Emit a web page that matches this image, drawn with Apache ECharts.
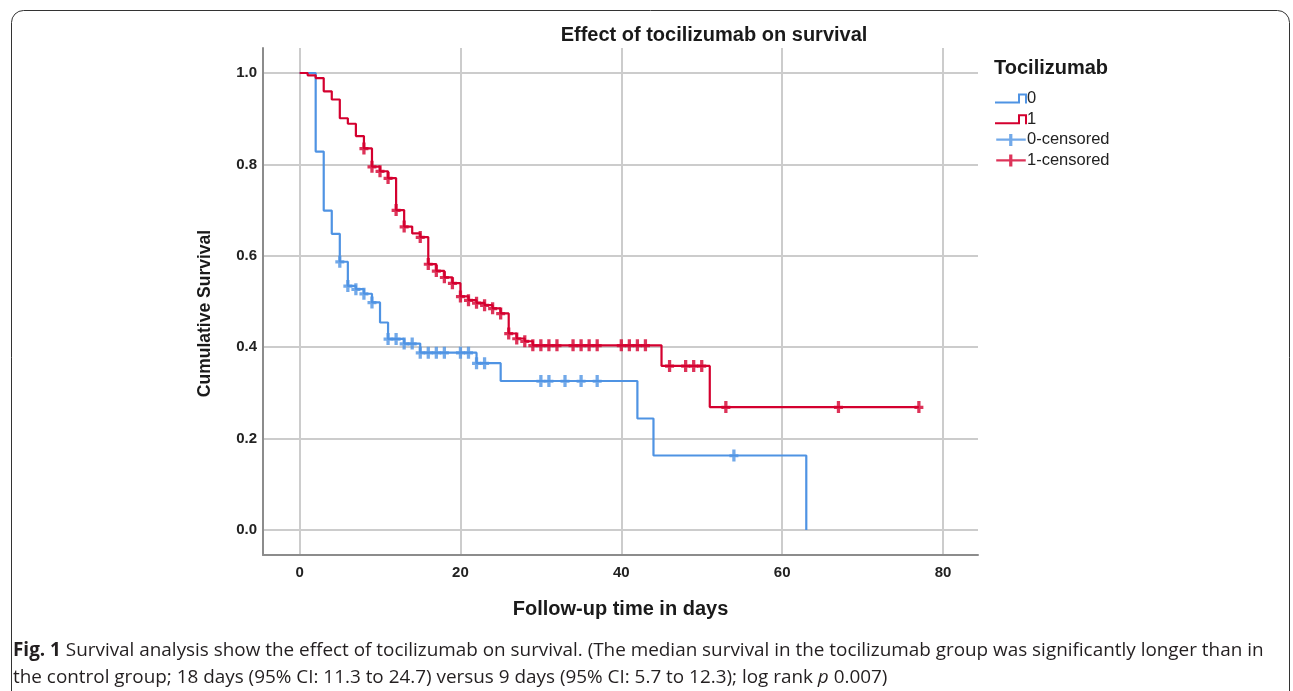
<!DOCTYPE html>
<html>
<head>
<meta charset="utf-8">
<title>Effect of tocilizumab on survival</title>
<script src="https://cdn.jsdelivr.net/npm/echarts@6/dist/echarts.min.js"></script>
<style>
  html, body { margin: 0; padding: 0; background: #fff; }
  #chart { width: 1293px; height: 691px; }
</style>
</head>
<body>
<div id="chart"></div>
<script>
// Tocilizumab = 0 (control): step points of the Kaplan-Meier curve
const days0 = [0, 2, 3, 4, 5, 6, 7, 8, 9, 10, 11, 13, 15, 22, 25, 42, 44, 63]
const surv0 = [1, 0.828, 0.699, 0.648, 0.587, 0.534, 0.527, 0.517, 0.498, 0.454, 0.418, 0.408, 0.388, 0.365, 0.326, 0.244, 0.163, 0]
// censored cases, group 0
const censDays0 = [5, 6, 7, 8, 9, 11, 12, 13, 14, 15, 16, 17, 18, 20, 21, 22, 23, 30, 31, 33, 35, 37, 54]
const censSurv0 = [0.587, 0.534, 0.527, 0.517, 0.498, 0.418, 0.418, 0.408, 0.408, 0.388, 0.388, 0.388, 0.388, 0.388, 0.388, 0.365, 0.365, 0.326, 0.326, 0.326, 0.326, 0.326, 0.163]

// Tocilizumab = 1
const days1 = [0, 1, 2, 3, 4, 5, 6, 7, 8, 9, 10, 11, 12, 13, 14, 15, 16, 17, 18, 19, 20, 21, 22, 23, 24, 25, 26, 27, 28, 29, 45, 51, 77]
const surv1 = [1, 0.995, 0.989, 0.960, 0.942, 0.901, 0.889, 0.862, 0.835, 0.795, 0.785, 0.770, 0.700, 0.664, 0.649, 0.641, 0.582, 0.567, 0.553, 0.540, 0.511, 0.503, 0.497, 0.492, 0.485, 0.474, 0.430, 0.419, 0.413, 0.404, 0.359, 0.269, 0.269]
const censDays1 = [8, 9, 10, 11, 12, 13, 15, 16, 17, 18, 19, 20, 21, 22, 23, 24, 25, 26, 27, 28, 29, 30, 31, 32, 34, 35, 36, 37, 40, 41, 42, 43, 46, 48, 49, 50, 53, 67, 77]
const censSurv1 = [0.835, 0.795, 0.785, 0.770, 0.700, 0.664, 0.641, 0.582, 0.567, 0.553, 0.540, 0.511, 0.503, 0.497, 0.492, 0.485, 0.474, 0.430, 0.419, 0.413, 0.404, 0.404, 0.404, 0.404, 0.404, 0.404, 0.404, 0.404, 0.404, 0.404, 0.404, 0.404, 0.359, 0.359, 0.359, 0.359, 0.269, 0.269, 0.269]

// axis ticks
const xTicks = [0, 20, 40, 60, 80]
const yTicks = [0, 0.2, 0.4, 0.6, 0.8, 1.0]

const blue = '#4f93e3'
const red = '#d4002f'
const font = 'Liberation Sans, Arial, sans-serif'
const captionFont = 'Open Sans, sans-serif'

const pair = (xs, ys) => xs.map((x, i) => [x, ys[i]])

// legend icons and censor mark
const stepIcon = 'path://M0,8H23V0H32V10H30V2H25V10H0Z'
const plusIcon = 'path://M0,5H14V0H17.5V5H32V7.5H17.5V13H14V7.5H0Z'
const plusMark = 'path://M3.5,0H7.5V5H11V8.5H7.5V13H3.5V8.5H0V5H3.5Z'

const chart = echarts.init(document.getElementById('chart'))
chart.setOption({
  animation: false,
  textStyle: { fontFamily: font },
  title: [
    {
      text: 'Effect of tocilizumab on survival',
      left: 709, top: 20, textAlign: 'center',
      textStyle: { fontSize: 20, fontWeight: 'bold', color: '#1a1a1a', fontFamily: font }
    },
    {
      text: 'Tocilizumab',
      left: 989, top: 53,
      textStyle: { fontSize: 20, fontWeight: 'bold', color: '#1a1a1a', fontFamily: font }
    }
  ],
  legend: {
    orient: 'vertical',
    left: 990, top: 85,
    itemWidth: 32, itemHeight: 12, itemGap: 3.7,
    textStyle: { fontSize: 16.5, color: '#222', fontFamily: font, padding: [0, 0, 0, -5] },
    data: [
      { name: '0', icon: stepIcon },
      { name: '1', icon: stepIcon },
      { name: '0-censored', icon: plusIcon },
      { name: '1-censored', icon: plusIcon }
    ]
  },
  grid: { left: 263, right: 315, top: 48, bottom: 136 },
  xAxis: {
    type: 'value', min: -4.55, max: 84.35,
    name: 'Follow-up time in days', nameLocation: 'middle', nameGap: 44,
    nameTextStyle: { fontSize: 20, fontWeight: 'bold', color: '#1a1a1a' },
    axisLine: { onZero: false, lineStyle: { color: '#8c8c8c', width: 2 } },
    axisTick: { show: false, customValues: xTicks },
    axisLabel: { customValues: xTicks, fontSize: 15, fontWeight: 'bold', color: '#222', margin: 10 },
    splitLine: { show: true, lineStyle: { color: '#cccccc', width: 2 } }
  },
  yAxis: {
    type: 'value', min: -0.0547, max: 1.0547,
    name: 'Cumulative Survival', nameLocation: 'middle', nameGap: 49, nameRotate: 90,
    nameTextStyle: { fontSize: 17.5, fontWeight: 'bold', color: '#1a1a1a', padding: [0, 24, 0, 0] },
    axisLine: { show: true, onZero: false, lineStyle: { color: '#8c8c8c', width: 2 } },
    axisTick: { show: false, customValues: yTicks },
    axisLabel: { customValues: yTicks, fontSize: 15, fontWeight: 'bold', color: '#222', margin: 6,
      formatter: v => v.toFixed(1) },
    splitLine: { show: true, lineStyle: { color: '#cccccc', width: 2 } }
  },
  series: [
    {
      name: '0', type: 'line', step: 'end', showSymbol: false,
      color: blue, lineStyle: { width: 2.2 },
      data: pair(days0, surv0)
    },
    {
      name: '1', type: 'line', step: 'end', showSymbol: false,
      color: red, lineStyle: { width: 2.2 },
      data: pair(days1, surv1)
    },
    {
      name: '0-censored', type: 'scatter', symbol: plusMark, symbolSize: [9, 12],
      color: blue, data: pair(censDays0, censSurv0), z: 3
    },
    {
      name: '1-censored', type: 'scatter', symbol: plusMark, symbolSize: [9, 12],
      color: red, data: pair(censDays1, censSurv1), z: 3
    }
  ],
  graphic: [
    {
      type: 'rect', left: 9, top: 8, z: -1, silent: true,
      shape: { width: 1278, height: 700, r: 12 },
      style: { fill: 'none', stroke: '#333', lineWidth: 1 }
    },
    {
      type: 'text', left: 13, top: 637,
      style: {
        text: '{b|Fig. 1} Survival analysis show the effect of tocilizumab on survival. (The median survival in the tocilizumab group was significantly longer than in\n'
          + 'the control group; 18 days (95% CI: 11.3 to 24.7) versus 9 days (95% CI: 5.7 to 12.3); log rank {i|p} 0.007)',
        fontFamily: captionFont, fontSize: 18.9, lineHeight: 27, fill: '#231f20',
        rich: {
          b: { fontWeight: 'bold', fontFamily: captionFont, fontSize: 18.9, lineHeight: 27 },
          i: { fontStyle: 'italic', fontFamily: captionFont, fontSize: 18.9, lineHeight: 27 }
        }
      }
    }
  ]
})
</script>
</body>
</html>
